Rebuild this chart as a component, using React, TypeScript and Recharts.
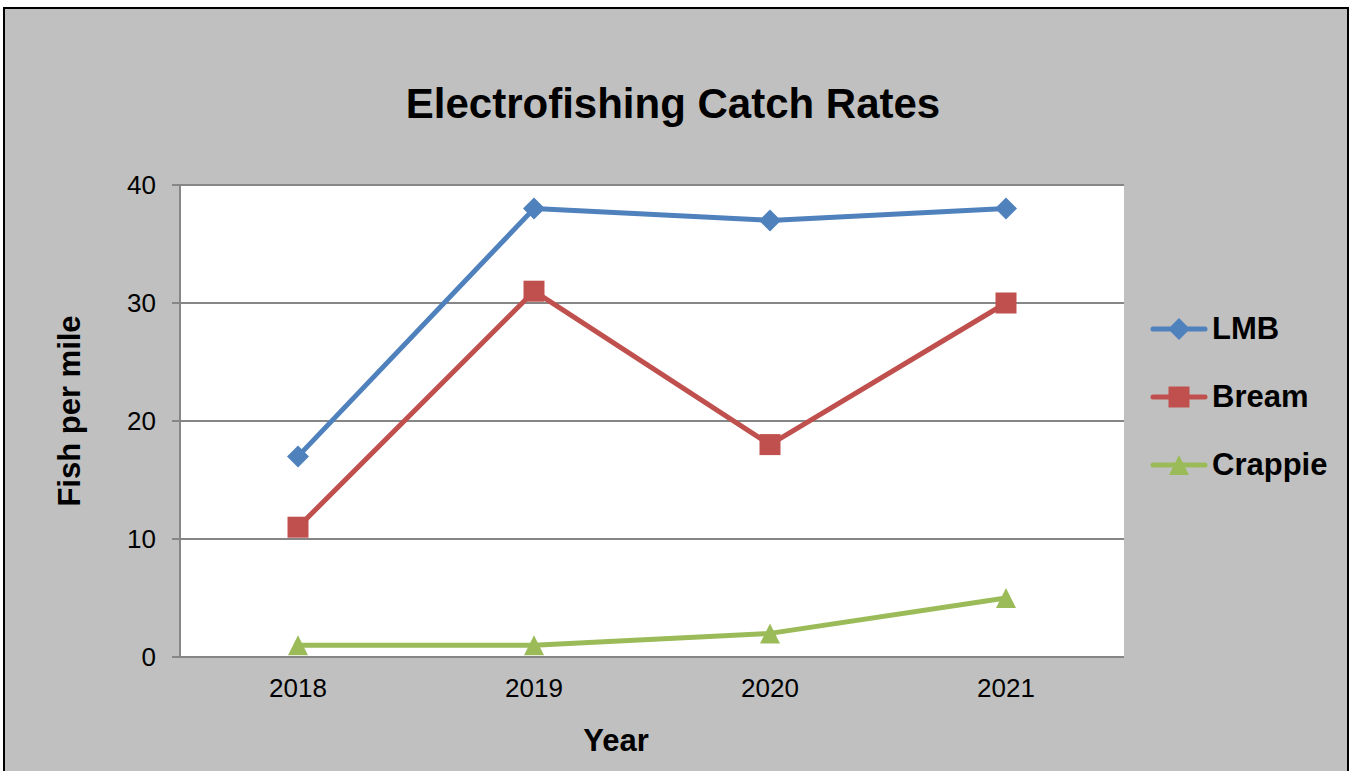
import { LineChart, Line, XAxis, YAxis, CartesianGrid } from 'recharts';

const years = ['2018', '2019', '2020', '2021'];
const lmb = [17, 38, 37, 38];
const bream = [11, 31, 18, 30];
const crappie = [1, 1, 2, 5];
const yTicks = [0, 10, 20, 30, 40];
// tick marks sit between categories, Excel style
const boundaryTicks = [0, 1, 2, 3, 4];

type Shape = 'diamond' | 'square' | 'triangle';

interface Series {
  key: string;
  name: string;
  color: string;
  shape: Shape;
}

const series: Series[] = [
  { key: 'lmb', name: 'LMB', color: '#4F81BD', shape: 'diamond' },
  { key: 'bream', name: 'Bream', color: '#C0504D', shape: 'square' },
  { key: 'crappie', name: 'Crappie', color: '#9BBB59', shape: 'triangle' },
];

const data = years.map((year, i) => ({
  year,
  lmb: lmb[i],
  bream: bream[i],
  crappie: crappie[i],
}));

const FONT = 'Arial, "Liberation Sans", sans-serif';
const AXIS_GRAY = '#868686';

function Marker({ shape, cx, cy, color }: { shape: Shape; cx: number; cy: number; color: string }) {
  if (shape === 'diamond') {
    return <polygon points={`${cx},${cy - 11} ${cx + 11},${cy} ${cx},${cy + 11} ${cx - 11},${cy}`} fill={color} />;
  }
  if (shape === 'square') {
    return <rect x={cx - 10.5} y={cy - 10.5} width={21} height={21} fill={color} />;
  }
  return <polygon points={`${cx},${cy - 10} ${cx + 10},${cy + 10} ${cx - 10},${cy + 10}`} fill={color} />;
}

function Legend() {
  return (
    <div style={{ position: 'absolute', left: 1150, top: 295, fontFamily: FONT }}>
      {series.map((s) => (
        <div key={s.key} style={{ height: 68, display: 'flex', alignItems: 'center' }}>
          <svg width={58} height={30} style={{ display: 'block' }}>
            <line x1={3} y1={15} x2={55} y2={15} stroke={s.color} strokeWidth={5} strokeLinecap="round" />
            <Marker shape={s.shape} cx={29} cy={15} color={s.color} />
          </svg>
          <span style={{ marginLeft: 4, fontSize: 31, fontWeight: 'bold', color: '#000' }}>{s.name}</span>
        </div>
      ))}
    </div>
  );
}

export default function App() {
  return (
    <div style={{ position: 'absolute', left: 0, top: 0, width: 1354, height: 771, background: '#fff', overflow: 'hidden' }}>
      <div
        style={{
          position: 'absolute',
          left: 3,
          top: 7,
          width: 1346,
          height: 800,
          border: '2.5px solid #000',
          boxSizing: 'border-box',
          background: '#c0c0c0',
        }}
      />
      <div
        style={{
          position: 'absolute',
          left: 0,
          top: 83,
          width: 1346,
          textAlign: 'center',
          fontFamily: FONT,
          fontSize: 42,
          lineHeight: '42px',
          fontWeight: 'bold',
          color: '#000',
        }}
      >
        Electrofishing Catch Rates
      </div>
      <div style={{ position: 'absolute', left: 0, top: 0 }}>
        <LineChart
          width={1354}
          height={771}
          data={data}
          margin={{ top: 185, right: 230, bottom: 19, left: 10 }}
          style={{ fontFamily: FONT }}
        >
          <CartesianGrid vertical={false} stroke={AXIS_GRAY} strokeWidth={2} fill="#fff" />
          <XAxis
            xAxisId="bounds"
            type="number"
            domain={[0, boundaryTicks.length - 1]}
            ticks={boundaryTicks}
            tick={false}
            height={0}
            tickSize={8}
            axisLine={{ stroke: AXIS_GRAY, strokeWidth: 2 }}
            tickLine={{ stroke: AXIS_GRAY, strokeWidth: 2 }}
          />
          <XAxis
            dataKey="year"
            scale="band"
            height={95}
            axisLine={false}
            tickLine={false}
            tickSize={0}
            tickMargin={22}
            tick={{ fontSize: 26, fill: '#000' }}
            label={{ value: 'Year', position: 'insideBottom', offset: 1, dx: -36, fontSize: 31, fontWeight: 'bold', fill: '#000' }}
          />
          <YAxis
            domain={[0, 40]}
            ticks={yTicks}
            width={170}
            tickSize={8}
            tickMargin={16}
            tick={{ fontSize: 26, fill: '#000' }}
            axisLine={{ stroke: AXIS_GRAY, strokeWidth: 2 }}
            tickLine={{ stroke: AXIS_GRAY, strokeWidth: 2 }}
            label={{
              value: 'Fish per mile',
              angle: -90,
              position: 'insideLeft',
              offset: 59,
              dy: -10,
              fontSize: 31,
              fontWeight: 'bold',
              fill: '#000',
              style: { textAnchor: 'middle' },
            }}
          />
          {series.map((s) => (
            <Line
              key={s.key}
              type="linear"
              dataKey={s.key}
              name={s.name}
              stroke={s.color}
              strokeWidth={5}
              strokeLinejoin="round"
              activeDot={false}
              isAnimationActive={false}
              dot={(p: any) => <Marker key={`${s.key}-${p.index}`} shape={s.shape} cx={p.cx} cy={p.cy} color={s.color} />}
            />
          ))}
        </LineChart>
      </div>
      <Legend />
    </div>
  );
}
